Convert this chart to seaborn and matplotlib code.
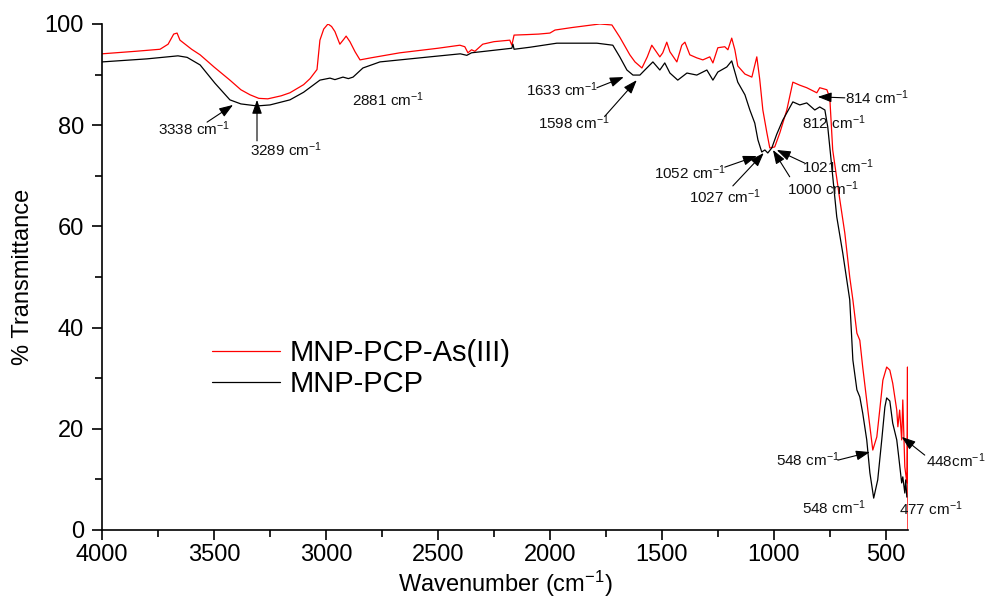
import numpy as np
import pandas as pd
import matplotlib
matplotlib.use("Agg")
import matplotlib.pyplot as plt
import seaborn as sns

# ---------------- data ----------------
red_wn = [4000, 3850, 3741, 3705, 3680, 3665, 3652, 3600, 3562, 3500, 3429, 3380, 3339, 3300,
          3260, 3200, 3161, 3100, 3071, 3040, 3027, 3010, 2991, 2975, 2960, 2938, 2920, 2910,
          2893, 2870, 2848, 2800, 2670, 2500, 2402, 2380, 2366, 2350, 2335, 2300, 2250, 2179,
          2170, 2160, 2100, 2050, 2000, 1977, 1900, 1777, 1723, 1688, 1643, 1620, 1589, 1565,
          1545, 1509, 1496, 1478, 1464, 1433, 1411, 1397, 1375, 1344, 1317, 1286, 1272, 1250,
          1219, 1205, 1188, 1174, 1161, 1129, 1098, 1076, 1063, 1049, 1031, 1018, 996, 973,
          942, 915, 884, 853, 826, 808, 795, 763, 750, 737, 705, 683, 661, 647, 629, 616, 603,
          580, 558, 540, 527, 513, 496, 482, 469, 451, 446, 438, 429, 424, 415, 406, 403, 401]
red_t = [94.1, 94.6, 95.0, 96.0, 98.0, 98.2, 96.8, 95.0, 93.9, 91.5, 88.9, 87.0, 86.0, 85.3,
         85.2, 85.8, 86.4, 88.0, 89.2, 91.0, 96.8, 99.0, 100.0, 99.5, 98.5, 96.0, 97.0, 97.6,
         96.5, 94.5, 92.9, 93.3, 94.3, 95.2, 95.8, 95.5, 94.3, 94.9, 94.6, 96.0, 96.5, 96.8,
         95.8, 97.8, 97.9, 98.0, 98.2, 98.8, 99.3, 100.0, 99.8, 97.4, 93.9, 92.5, 91.3, 93.5,
         95.8, 93.5, 94.3, 96.4, 94.5, 92.5, 95.8, 96.4, 93.9, 93.3, 92.9, 93.5, 92.3, 95.3,
         95.5, 94.9, 97.2, 94.9, 91.7, 90.1, 89.5, 93.5, 89.1, 83.0, 78.5, 75.5, 75.7, 78.5,
         83.0, 88.5, 87.9, 87.4, 86.8, 86.4, 87.4, 87.0, 85.4, 75.1, 65.2, 58.7, 50.0, 45.5,
         38.9, 37.5, 32.2, 23.7, 15.8, 18.4, 23.7, 29.6, 32.2, 31.6, 29.0, 23.7, 20.4, 23.7,
         17.8, 25.7, 12.5, 9.3, 32.2, 0.0]

black_wn = [4000, 3800, 3661, 3620, 3562, 3496, 3429, 3380, 3308, 3250, 3161, 3100, 3027, 2982,
            2960, 2924, 2900, 2879, 2835, 2759, 2536, 2400, 2371, 2350, 2210, 2170, 2165, 2160,
            2089, 1969, 1790, 1719, 1688, 1656, 1629, 1598, 1576, 1540, 1509, 1487, 1464, 1429,
            1388, 1344, 1299, 1272, 1250, 1210, 1188, 1161, 1129, 1107, 1085, 1071, 1054, 1040,
            1027, 1009, 987, 960, 915, 884, 853, 817, 795, 772, 759, 741, 719, 692, 661, 647,
            629, 616, 603, 585, 571, 554, 536, 518, 504, 496, 482, 469, 451, 442, 429, 424, 415,
            411, 406]
black_t = [92.5, 93.1, 93.7, 93.4, 91.9, 88.3, 85.0, 84.2, 83.8, 84.0, 85.0, 86.5, 88.9, 89.3,
           89.0, 89.5, 89.2, 89.5, 91.3, 92.5, 93.5, 94.1, 93.8, 94.3, 95.0, 95.2, 96.0, 95.0,
           95.4, 96.2, 96.2, 95.8, 93.5, 90.9, 89.9, 89.9, 90.9, 92.5, 90.9, 92.3, 90.3, 88.9,
           90.3, 89.9, 90.9, 88.9, 90.5, 91.5, 92.7, 88.5, 86.0, 83.0, 80.4, 77.1, 74.7, 75.1,
           74.5, 75.5, 78.2, 81.0, 84.6, 84.0, 84.4, 83.0, 83.6, 83.0, 79.6, 71.7, 61.9, 54.7,
           45.5, 33.6, 27.7, 26.3, 23.1, 17.8, 11.3, 6.3, 9.9, 17.8, 24.3, 26.1, 25.5, 21.1,
           17.8, 14.4, 9.3, 10.5, 7.3, 9.9, 6.5]

series_names = ["MNP-PCP-As(III)", "MNP-PCP"]
series_colors = ["#ff0000", "#000000"]

# annotations: label, text centre (wn, T), arrow tail, arrow tip (None = no arrow)
ann_labels = ["3338", "3289", "2881", "1633", "1598", "1052", "1027", "1000", "1021",
              "814", "812", "548", "448", "548", "477"]
ann_units = [" cm$^{-1}$"] * 12 + ["cm$^{-1}$", " cm$^{-1}$", " cm$^{-1}$"]
ann_text = [(3589, 79.4), (3179, 75.1), (2723, 85.0), (1946, 87.0), (1893, 80.4),
            (1375, 70.6), (1219, 65.8), (781, 67.4), (714, 71.7), (540, 85.4), (732, 80.4),
            (848, 13.8), (187, 13.6), (732, 4.5), (299, 4.3)]
ann_tail = [(3531, 80.6), (3308, 76.9), None, (1790, 87.4), (1754, 81.8), (1219, 71.7),
            (1183, 68.0), (929, 69.8), (862, 72.5), (683, 85.4), None, (714, 13.8),
            (326, 14.8), None, None]
ann_tip = [(3415, 84.0), (3308, 85.0), None, (1670, 89.5), (1612, 88.9), (1076, 73.9),
           (1045, 74.5), (1004, 75.1), (987, 75.1), (804, 85.6), None, (571, 15.4),
           (429, 18.4), None, None]

x_ticks = [4000, 3500, 3000, 2500, 2000, 1500, 1000, 500]
y_ticks = [0, 20, 40, 60, 80, 100]

# ---------------- plotting ----------------
sns.set_theme(style="ticks")
plt.rcParams["font.family"] = ["Liberation Sans", "DejaVu Sans"]
plt.rcParams["mathtext.fontset"] = "custom"
plt.rcParams["mathtext.rm"] = "Liberation Sans"
plt.rcParams["mathtext.it"] = "Liberation Sans:italic"
plt.rcParams["mathtext.bf"] = "Liberation Sans:bold"
for k in ["text.color", "axes.labelcolor", "xtick.color", "ytick.color", "axes.edgecolor"]:
    plt.rcParams[k] = "black"

df = pd.concat([
    pd.DataFrame({"wn": red_wn, "T": red_t, "sample": series_names[0]}),
    pd.DataFrame({"wn": black_wn, "T": black_t, "sample": series_names[1]}),
], ignore_index=True)

fig = plt.figure(figsize=(9.85, 5.99), dpi=100)
ax = fig.add_axes([0.1036, 0.1152, 0.8184, 0.8448])

sns.lineplot(data=df, x="wn", y="T", hue="sample", hue_order=series_names,
             palette=series_colors, estimator=None, sort=False, linewidth=0.9, ax=ax)

ax.set_xlim(4000, 400)
ax.set_ylim(0, 100)
ax.set_xticks(x_ticks)
ax.set_yticks(y_ticks)
ax.set_xticks(np.arange(3750, 400, -500), minor=True)
ax.set_yticks(np.arange(10, 100, 20), minor=True)
for s in ["top", "right"]:
    ax.spines[s].set_visible(False)
for s in ["left", "bottom"]:
    ax.spines[s].set_linewidth(1.2)
    ax.spines[s].set_color("black")
ax.tick_params(axis="both", which="major", direction="out", length=7, width=1.2,
               labelsize=17, colors="black")
ax.tick_params(axis="both", which="minor", direction="out", length=5, width=1.2,
               colors="black")
ax.tick_params(axis="x", which="major", pad=3)
ax.tick_params(axis="y", which="major", pad=6)

ax.set_xlabel("Wavenumber (cm$^{-1}$)", fontsize=17, labelpad=2, color="black")
ax.set_ylabel("% Transmittance", fontsize=17, labelpad=8, color="black")

leg = ax.legend(loc="upper left", bbox_to_anchor=(0.137, 0.377), frameon=False,
                fontsize=21, handlelength=2.3, handletextpad=0.35, borderpad=0,
                borderaxespad=0, labelspacing=0.1)
for line in leg.get_lines():
    line.set_linewidth(0.9)
for t in leg.get_texts():
    t.set_color("black")

for lab, unit, tpos, tail, tip in zip(ann_labels, ann_units, ann_text, ann_tail, ann_tip):
    ax.text(tpos[0], tpos[1], lab + unit, fontsize=11, ha="center", va="center",
            color="#111111", clip_on=False)
    if tip is not None:
        ax.annotate("", xy=tip, xytext=tail,
                    arrowprops=dict(arrowstyle="-|>,head_length=0.7,head_width=0.25",
                                    color="black", lw=0.8, shrinkA=0, shrinkB=0))

fig.savefig("out.png", dpi=100)
